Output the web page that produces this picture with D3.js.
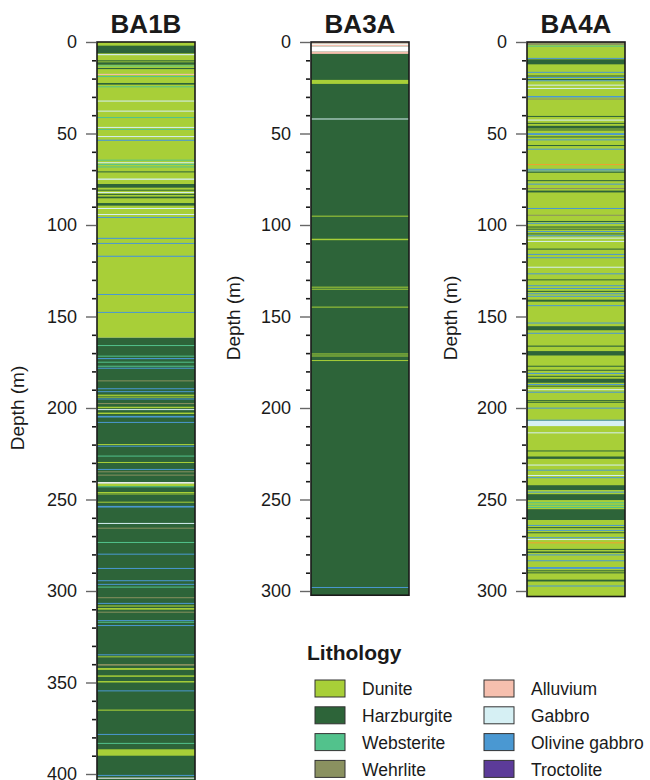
<!DOCTYPE html>
<html><head><meta charset="utf-8">
<script src="https://cdn.jsdelivr.net/npm/d3@7"></script>
<style>body{margin:0;background:#fff}svg{display:block}text{font-family:"Liberation Sans",Arial,sans-serif;fill:#1a1a1a}</style>
</head><body><svg id="c" width="650" height="780"></svg>
<script>
// Lithology codes and legend
const lithCodes = ["D","H","S","W","A","G","O","T"];
const lithNames = ["Dunite","Harzburgite","Websterite","Wehrlite","Alluvium","Gabbro","Olivine gabbro","Troctolite"];
const lithColors = ["#a8cf38","#2d6439","#52c28c","#8a9160","#f6bfae","#d6f0f4","#4a98d2","#5c3b99"];
// extra codes seen in the logs but not in the legend: N = no recovery (white), X = orange band
const extraCodes = ["N","X"];
const extraColors = ["#ffffff","#f0a030"];

const holes = ["BA1B","BA3A","BA4A"];
const depthTicks = [0,50,100,150,200,250,300,350,400];

// intervals: [top (m), bottom (m), lithology]
const ba1b = [
 [0,161.6,"D"],[161.6,412,"H"],
 [2,6.2,"H"],[6.6,7.2,"G"],[10,10.6,"H"],[11.1,12.4,"H"],[12.8,13.3,"S"],[14.2,14.8,"H"],[17.4,18,"A"],[18.6,19.1,"S"],
 [22.4,23.3,"H"],[24.2,24.7,"S"],[32,32.5,"G"],[37.5,38,"G"],[41,41.5,"S"],[46.4,46.9,"G"],[47.5,48,"S"],[51.4,51.9,"G"],
 [53.4,54,"O"],[64.3,64.8,"S"],[65.7,66.2,"G"],[66.6,67.1,"S"],[68,68.5,"S"],[70.7,71.2,"H"],[74.6,75.3,"G"],[77.6,79.6,"H"],
 [80.7,81.2,"H"],[82,82.5,"G"],[83,83.5,"H"],[84.5,85.4,"H"],[88,89.4,"H"],[90.7,91.2,"G"],[94,94.5,"G"],[95.6,96.1,"O"],
 [107,107.6,"O"],[109.8,110.3,"O"],[116.8,117.4,"O"],[137.7,138.2,"O"],[147.5,148,"O"],
 [165.6,166.1,"S"],[171.4,171.9,"S"],[172.7,173.3,"O"],[174.7,175.2,"S"],[176.9,177.4,"S"],[178,178.5,"O"],[184.9,185.4,"W"],
 [189.2,189.7,"O"],[190.8,191.3,"O"],[192.7,193.4,"D"],[193.8,194.3,"D"],[194.8,195.3,"O"],[197.3,197.8,"W"],[199.3,200.1,"D"],
 [200.6,201.1,"G"],[202.5,203.3,"D"],[204.3,205.2,"O"],[207.6,208.1,"O"],[219.7,220.2,"D"],[220.6,221.1,"O"],[226,226.5,"S"],
 [229.5,230,"D"],[233.3,233.8,"O"],[234.6,235.1,"W"],[236.4,236.9,"W"],[240.5,241.4,"N"],[241.4,242.8,"D"],[242.8,243.2,"S"],
 [245.9,246.4,"D"],[246.7,247.2,"D"],[251.2,251.7,"D"],[253.5,254.4,"O"],[262.8,263.3,"G"],[265.4,265.9,"W"],[273.2,273.7,"S"],
 [279.6,280.1,"O"],[287.4,287.9,"O"],[294.1,294.6,"O"],[296.1,296.6,"O"],[297.6,298.1,"S"],[303.4,303.9,"W"],[306.5,307,"O"],
 [307.9,308.5,"D"],[309.3,310.2,"D"],[311.3,311.8,"W"],[315.9,316.4,"O"],[316.8,317.3,"S"],[318.6,319.1,"O"],[334.6,335.1,"O"],
 [335.7,336.2,"D"],[339.9,340.8,"W"],[342.1,343.1,"D"],[346.1,346.9,"D"],[349.2,350,"D"],[354.3,354.8,"O"],[364.8,365.4,"D"],
 [378.1,378.6,"O"],[383,383.5,"S"],[386.5,390,"D"],[400.5,401,"O"],[402,402.5,"N"]
];
const ba3a = [
 [0,302.3,"H"],[0,0.9,"A"],[0.9,1.6,"N"],[1.6,2.4,"A"],[2.4,5.3,"N"],[5.3,6.5,"A"],
 [20.7,22.9,"D"],[41.8,42.3,"G"],[94.9,95.4,"D"],[107.5,108.3,"D"],[133.7,134.2,"D"],[134.8,135.3,"D"],
 [144.6,145.1,"D"],[170.2,170.7,"D"],[171.3,171.8,"D"],[173.8,174.3,"D"],[297.8,298.3,"O"]
];
const ba4a = [
 [0,303,"D"],[0,1.6,"W"],[2,2.5,"S"],[8.7,9.2,"O"],[9.5,12.2,"H"],[16.3,16.8,"O"],[18.3,18.8,"H"],[19.1,19.6,"O"],
 [20.2,20.7,"H"],[20.9,21.4,"O"],[23.3,23.8,"G"],[25.1,25.6,"G"],[29.5,30.3,"O"],[30.9,31.4,"W"],[40.4,40.9,"H"],
 [42.4,42.9,"G"],[44.2,44.7,"H"],[45.8,47.3,"H"],[47.8,48.3,"H"],[49.8,50.8,"O"],[51.6,52.1,"H"],[53.2,53.7,"O"],
 [56.3,56.8,"H"],[58.3,58.8,"O"],[66.7,67.2,"X"],[69.3,69.8,"O"],[70.2,70.7,"O"],[70.9,71.4,"H"],[75.5,76,"H"],
 [77.4,77.9,"O"],[79.8,80.3,"W"],[81.2,82.2,"H"],[90.7,91.2,"O"],[94.4,94.9,"W"],[97.8,98.3,"H"],[98.8,99.3,"O"],
 [100.8,101.4,"H"],[102,102.5,"H"],[103.3,103.8,"O"],[104.6,105.1,"H"],[105.6,106.1,"O"],[106.9,107.4,"G"],[108.7,109.2,"G"],
 [112.9,113.4,"H"],[115.8,116.3,"O"],[117.6,118.1,"O"],[122.8,123.3,"G"],[126.4,126.9,"O"],[129.7,130.2,"H"],[132.9,133.4,"O"],
 [134.4,134.9,"O"],[136,136.5,"H"],[137.3,137.8,"O"],[138.7,139.2,"O"],[140.8,141.9,"H"],[143.8,144.3,"O"],[153.3,153.8,"O"],
 [155.3,157.5,"H"],[158.9,159.4,"O"],[165.9,166.5,"H"],[168.9,171.3,"H"],[176.9,177.4,"H"],[179.1,179.6,"H"],[180.8,181.4,"O"],
 [182.4,182.9,"H"],[184,186.2,"H"],[186.9,187.4,"O"],[187.8,188.3,"H"],[189.7,190.2,"G"],[191.1,191.6,"O"],[195.7,196.2,"H"],
 [196.6,197.1,"H"],[199.8,200.3,"O"],[206.4,206.9,"O"],[207.1,209.9,"G"],[213.3,213.8,"G"],[223.2,223.7,"H"],[226.5,227.8,"H"],
 [230.9,231.4,"G"],[233.7,234.2,"O"],[236.6,237.1,"G"],[237.8,238.3,"O"],[242.2,244.8,"H"],[245.7,246.2,"O"],[247.1,250.3,"H"],
 [251.5,252,"S"],[252.9,253.4,"S"],[254.1,254.6,"S"],[255.3,261.2,"H"],[263.9,264.4,"O"],[265.1,265.6,"H"],[266.6,267.1,"O"],
 [267.9,268.4,"H"],[270.6,271.1,"O"],[271.6,272.1,"G"],[273.4,273.9,"X"],[277,277.5,"H"],[278.4,279.2,"H"],[280,280.5,"O"],
 [283.2,283.7,"O"],[286.9,287.9,"O"],[288.7,289.2,"H"],[289.8,290.3,"H"],[293.8,294.8,"H"],[297,297.5,"O"]
];
const holeData = [ba1b, ba3a, ba4a];
const holeMax = [412, 302.3, 303];
const holeTicks = [depthTicks, depthTicks.filter(d=>d<=300), depthTicks.filter(d=>d<=300)];

const color = d3.scaleOrdinal().domain(lithCodes.concat(extraCodes)).range(lithColors.concat(extraColors));

const svg = d3.select("#c");
const colX = d3.scaleOrdinal().domain(holes).range([97, 311, 527]);
const colW = 98;
const y = d3.scaleLinear().domain([0, 400]).range([42, 774]);

holes.forEach((h, i) => {
  const g = svg.append("g").attr("transform", `translate(${colX(h)},0)`);
  const yh = y.copy().domain([0, holeMax[i]]).range([y(0), y(holeMax[i])]);
  g.selectAll("rect.l").data(holeData[i]).join("rect").attr("class","l")
    .attr("x", 0).attr("width", colW)
    .attr("y", d => yh(d[0]))
    .attr("height", d => Math.max(1, yh(d[1]) - yh(d[0])))
    .attr("fill", d => color(d[2]));
  g.append("rect").attr("x",0).attr("y",yh(0)).attr("width",colW).attr("height",yh(holeMax[i])-yh(0))
    .attr("fill","none").attr("stroke","#1a1a1a").attr("stroke-width",1.6);
  // minor ticks
  const minor = d3.range(0, holeMax[i] - 1, 10).filter(d => d % 50 !== 0);
  const minorAxis = d3.axisLeft(y).tickValues(minor).tickSize(4).tickFormat("");
  const ma = g.append("g").attr("transform","translate(-1,0)").call(minorAxis);
  ma.select(".domain").remove();
  ma.selectAll("line").attr("stroke","#1a1a1a").attr("stroke-width",1.6);
  const majorAxis = d3.axisLeft(y).tickValues(holeTicks[i]).tickSize(10).tickPadding(9);
  const mj = g.append("g").attr("transform","translate(-1,0)").call(majorAxis);
  mj.select(".domain").remove();
  mj.selectAll("line").attr("stroke","#666").attr("stroke-width",1.4);
  mj.selectAll("text").attr("font-size",18).attr("fill","#1a1a1a").style("font-family","'Liberation Sans',Arial,sans-serif");
  // title
  svg.append("text").attr("x", colX(h) + colW/2).attr("y", 33).attr("text-anchor","middle")
    .attr("font-size",26).attr("font-weight","bold").text(h);
});

// depth titles
const depthTitlePos = [[24, 408],[240, 318],[457, 318]];
depthTitlePos.forEach(p => {
  svg.append("text").attr("transform", `translate(${p[0]},${p[1]}) rotate(-90)`)
    .attr("text-anchor","middle").attr("font-size",19).text("Depth (m)");
});

// legend
svg.append("text").attr("x",307).attr("y",660).attr("font-size",21).attr("font-weight","bold").text("Lithology");
const lg = svg.append("g").selectAll("g").data(lithCodes).join("g")
  .attr("transform", (d,i) => `translate(${i < 4 ? 315 : 484},${680 + (i % 4) * 26.8})`);
lg.append("rect").attr("width",30).attr("height",17).attr("fill", d => color(d)).attr("stroke","#333").attr("stroke-width",1);
lg.append("text").attr("x",47).attr("y",9).attr("dy","0.35em").attr("font-size",17.5)
  .text((d,i) => lithNames[i]);
</script></body></html>
